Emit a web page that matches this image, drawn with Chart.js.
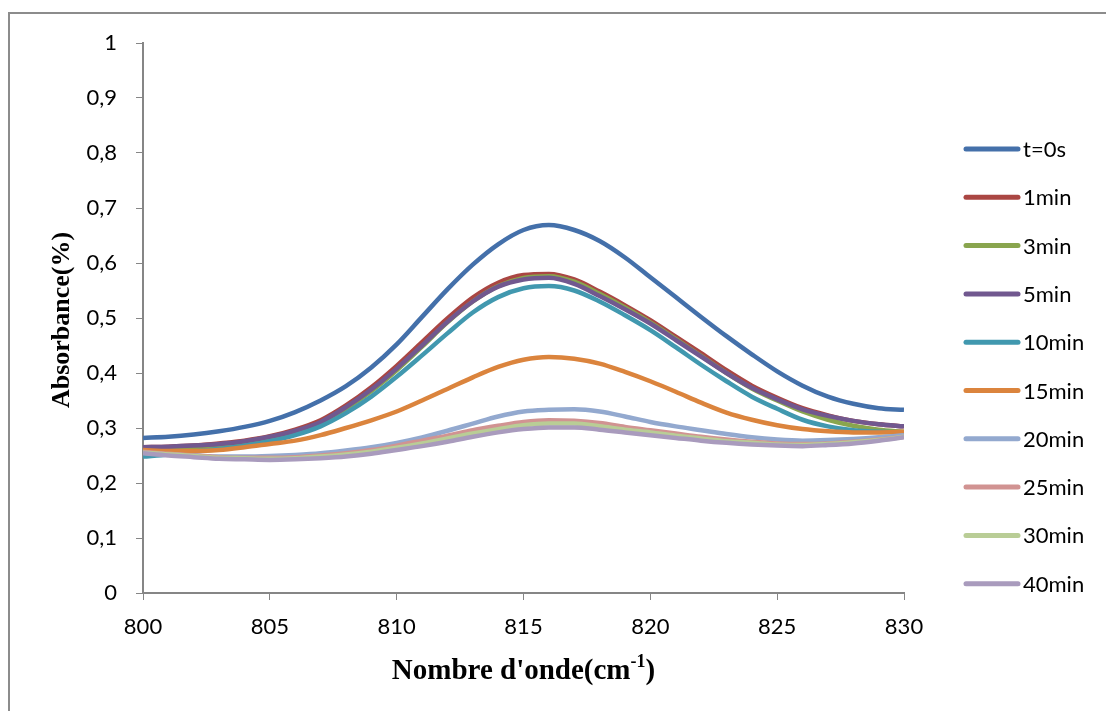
<!DOCTYPE html>
<html lang="fr">
<head>
  <meta charset="UTF-8">
  <title>Absorbance</title>
  <script src="https://cdn.jsdelivr.net/npm/chart.js"></script>
  <style>
    html, body { margin: 0; padding: 0; background: #ffffff; }
    #wrap { width: 1106px; height: 711px; position: relative; }
  </style>
</head>
<body>
  <div id="wrap"><canvas id="absChart" width="1106" height="711"></canvas></div>
  <script>
    // wavenumbers (cm-1)
    const wavenumbers = [800, 801, 802, 803, 804, 805, 806, 807, 808, 809, 810, 811, 812, 813, 814, 815,
                         816, 817, 818, 819, 820, 821, 822, 823, 824, 825, 826, 827, 828, 829, 830];

    const seriesNames = ['t=0s', '1min', '3min', '5min', '10min', '15min', '20min', '25min', '30min', '40min'];
    const seriesColors = ['#4470AA', '#AA4643', '#89A54E', '#71588F', '#4198AF', '#DB843D',
                          '#93A9CF', '#D19392', '#B9CD96', '#A99BBD'];

    const t0s   = [0.282, 0.284, 0.288, 0.294, 0.302, 0.313, 0.329, 0.350, 0.376, 0.410, 0.452, 0.502, 0.552, 0.597, 0.634, 0.660,
                   0.669, 0.660, 0.640, 0.610, 0.574, 0.538, 0.502, 0.467, 0.434, 0.403, 0.377, 0.357, 0.344, 0.336, 0.333];
    const min1  = [0.265, 0.266, 0.268, 0.272, 0.277, 0.285, 0.297, 0.314, 0.341, 0.374, 0.413, 0.456, 0.499, 0.537, 0.564, 0.578,
                   0.580, 0.570, 0.548, 0.523, 0.496, 0.466, 0.436, 0.405, 0.377, 0.355, 0.336, 0.323, 0.313, 0.307, 0.303];
    const min3  = [0.258, 0.260, 0.263, 0.267, 0.273, 0.281, 0.293, 0.309, 0.335, 0.367, 0.405, 0.448, 0.492, 0.530, 0.558, 0.573,
                   0.576, 0.566, 0.544, 0.519, 0.492, 0.462, 0.431, 0.400, 0.372, 0.350, 0.330, 0.315, 0.304, 0.297, 0.293];
    const min5  = [0.265, 0.266, 0.268, 0.271, 0.276, 0.284, 0.295, 0.311, 0.338, 0.370, 0.408, 0.450, 0.493, 0.530, 0.557, 0.570,
                   0.573, 0.562, 0.540, 0.516, 0.490, 0.460, 0.430, 0.400, 0.373, 0.352, 0.334, 0.322, 0.313, 0.307, 0.303];
    const min10 = [0.248, 0.252, 0.257, 0.262, 0.268, 0.276, 0.287, 0.303, 0.327, 0.357, 0.393, 0.432, 0.472, 0.510, 0.538, 0.554,
                   0.558, 0.550, 0.530, 0.505, 0.478, 0.447, 0.415, 0.385, 0.357, 0.335, 0.315, 0.303, 0.296, 0.293, 0.292];
    const min15 = [0.260, 0.258, 0.258, 0.260, 0.265, 0.271, 0.277, 0.287, 0.300, 0.314, 0.330, 0.350, 0.371, 0.392, 0.411, 0.424,
                   0.429, 0.426, 0.417, 0.402, 0.385, 0.366, 0.346, 0.328, 0.315, 0.305, 0.298, 0.294, 0.292, 0.292, 0.293];
    const min20 = [0.255, 0.252, 0.250, 0.248, 0.248, 0.249, 0.251, 0.254, 0.259, 0.265, 0.273, 0.283, 0.295, 0.308, 0.321, 0.330,
                   0.333, 0.334, 0.330, 0.321, 0.311, 0.303, 0.296, 0.289, 0.283, 0.279, 0.277, 0.278, 0.280, 0.283, 0.287];
    const min25 = [0.257, 0.253, 0.250, 0.247, 0.246, 0.246, 0.247, 0.250, 0.254, 0.260, 0.268, 0.277, 0.286, 0.296, 0.304, 0.311,
                   0.314, 0.313, 0.309, 0.302, 0.296, 0.290, 0.284, 0.279, 0.275, 0.272, 0.271, 0.272, 0.275, 0.279, 0.284];
    const min30 = [0.255, 0.252, 0.249, 0.246, 0.245, 0.244, 0.245, 0.248, 0.252, 0.257, 0.264, 0.272, 0.281, 0.290, 0.298, 0.305,
                   0.308, 0.308, 0.303, 0.297, 0.292, 0.286, 0.281, 0.276, 0.273, 0.270, 0.269, 0.271, 0.274, 0.278, 0.284];
    const min40 = [0.254, 0.250, 0.247, 0.244, 0.243, 0.242, 0.243, 0.245, 0.248, 0.253, 0.260, 0.267, 0.275, 0.284, 0.292, 0.298,
                   0.301, 0.301, 0.297, 0.292, 0.287, 0.282, 0.277, 0.273, 0.270, 0.268, 0.267, 0.269, 0.272, 0.277, 0.283];

    const allSeries = [t0s, min1, min3, min5, min10, min15, min20, min25, min30, min40];

    const TICK_FONT = '22px Lato, "Open Sans", sans-serif';
    const AXIS_GREY = '#868686';

    // draws the outer frame, axis titles and the legend on the right
    const decorPlugin = {
      id: 'decor',
      afterDraw(chart) {
        const ctx = chart.ctx;
        const area = chart.chartArea;
        ctx.save();

        // outer frame (only left + top edge are visible)
        ctx.strokeStyle = '#8c8c8c';
        ctx.lineWidth = 2;
        ctx.beginPath();
        ctx.moveTo(9, 720);
        ctx.lineTo(9, 13);
        ctx.lineTo(1106, 13);
        ctx.stroke();

        // y title
        ctx.fillStyle = '#000';
        ctx.font = 'bold 26px "Liberation Serif", "Times New Roman", serif';
        ctx.textAlign = 'center';
        ctx.textBaseline = 'middle';
        ctx.translate(62, 320);
        ctx.rotate(-Math.PI / 2);
        ctx.fillText('Absorbance(%)', 0, 0);
        ctx.setTransform(1, 0, 0, 1, 0, 0);

        // x title with superscript
        const mainFont = 'bold 29px "Liberation Serif", "Times New Roman", serif';
        const supFont = 'bold 18px "Liberation Serif", "Times New Roman", serif';
        const partA = "Nombre d'onde(cm", sup = '-1', partB = ')';
        ctx.font = mainFont;
        const wA = ctx.measureText(partA).width, wB = ctx.measureText(partB).width;
        ctx.font = supFont;
        const wS = ctx.measureText(sup).width;
        let x = (area.left + area.right) / 2 - (wA + wS + wB) / 2;
        const y = 679;
        ctx.textAlign = 'left';
        ctx.textBaseline = 'alphabetic';
        ctx.font = mainFont;
        ctx.fillText(partA, x, y);
        x += wA;
        ctx.font = supFont;
        ctx.fillText(sup, x, y - 12);
        x += wS;
        ctx.font = mainFont;
        ctx.fillText(partB, x, y);

        // legend
        ctx.font = TICK_FONT;
        ctx.textBaseline = 'middle';
        chart.data.datasets.forEach((ds, i) => {
          const ly = 149 + i * 48.3;
          ctx.strokeStyle = ds.borderColor;
          ctx.lineWidth = 5;
          ctx.lineCap = 'round';
          ctx.beginPath();
          ctx.moveTo(966, ly);
          ctx.lineTo(1018, ly);
          ctx.stroke();
          ctx.fillStyle = '#000';
          ctx.fillText(ds.label, 1023, ly + 1);
        });
        ctx.restore();
      }
    };

    const datasets = seriesNames.map((name, i) => ({
      label: name,
      data: wavenumbers.map((w, j) => ({ x: w, y: allSeries[i][j] })),
      borderColor: seriesColors[i],
      backgroundColor: seriesColors[i],
      borderWidth: 4.5,
      pointRadius: 0,
      cubicInterpolationMode: 'monotone',
      fill: false,
      order: seriesNames.length - i   // later series drawn on top, like Excel
    }));

    const chart = new Chart(document.getElementById('absChart').getContext('2d'), {
      type: 'line',
      data: { datasets: datasets },
      options: {
        responsive: false,
        animation: false,
        layout: { padding: { left: 0, top: 43, right: 202, bottom: 0 } },
        plugins: {
          legend: { display: false },
          tooltip: { enabled: false }
        },
        scales: {
          x: {
            type: 'linear',
            min: 800,
            max: 830,
            ticks: { stepSize: 5, color: '#000', font: { family: 'Lato, "Open Sans", sans-serif', size: 22 }, padding: 14 },
            grid: { drawOnChartArea: false, drawTicks: true, tickLength: 7, color: AXIS_GREY, tickColor: AXIS_GREY },
            border: { color: AXIS_GREY, width: 2 },
            afterFit(scale) { scale.height = 118; }
          },
          y: {
            min: 0,
            max: 1,
            ticks: {
              stepSize: 0.1,
              color: '#000',
              font: { family: 'Lato, "Open Sans", sans-serif', size: 22 },
              padding: 19,
              callback: v => String(Math.round(v * 10) / 10).replace('.', ',')
            },
            grid: { drawOnChartArea: false, drawTicks: true, tickLength: 7, color: AXIS_GREY, tickColor: AXIS_GREY },
            border: { color: AXIS_GREY, width: 2 },
            afterFit(scale) { scale.width = 143; }
          }
        }
      },
      plugins: [decorPlugin]
    });
  </script>
</body>
</html>
